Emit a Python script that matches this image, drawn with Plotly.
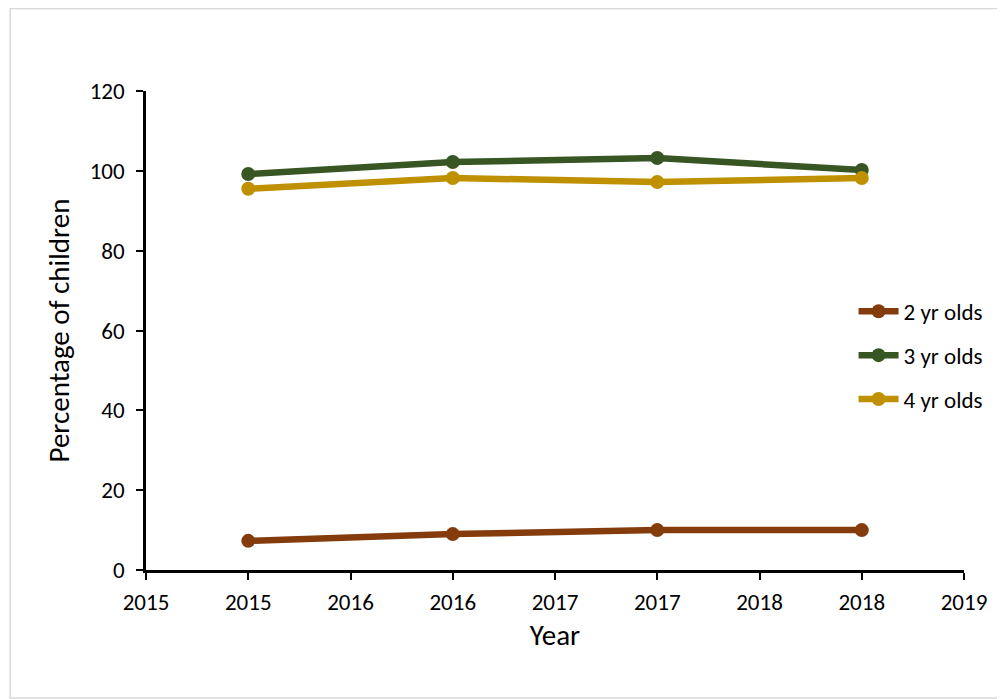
import plotly.graph_objects as go

years = [2015, 2016, 2017, 2018]
two_yr = [7.3, 9.0, 10.0, 10.0]
three_yr = [99.2, 102.2, 103.2, 100.2]
four_yr = [95.5, 98.2, 97.2, 98.2]
series_names = ["2 yr olds", "3 yr olds", "4 yr olds"]
colors = ["#843C0C", "#375623", "#BF9000"]
x_tickvals = [2014.5, 2015, 2015.5, 2016, 2016.5, 2017, 2017.5, 2018, 2018.5]
x_ticktext = ["2015", "2015", "2016", "2016", "2017", "2017", "2018", "2018", "2019"]
y_tickvals = [0, 20, 40, 60, 80, 100, 120]

FONT = "Carlito, Lato, Open Sans, Liberation Sans, sans-serif"

fig = go.Figure()
for i, (name, vals) in enumerate(zip(series_names, [two_yr, three_yr, four_yr])):
    fig.add_trace(go.Scatter(
        x=years, y=vals, name=name, mode="lines+markers",
        line=dict(color=colors[i], width=6.5),
        marker=dict(color=colors[i], size=14),
        legendgroup=name,
    ))

fig.update_layout(
    width=1005, height=699,
    margin=dict(l=138, r=49, t=83, b=137),
    paper_bgcolor="white", plot_bgcolor="white",
    font=dict(family=FONT, size=23, color="black"),
    showlegend=True,
    legend=dict(x=0.865, y=0.585, xanchor="left", yanchor="top",
                bgcolor="rgba(0,0,0,0)", font=dict(size=23, family=FONT),
                traceorder="grouped", tracegroupgap=11, itemwidth=40),
    xaxis=dict(range=[2014.5, 2018.5], tickvals=x_tickvals, ticktext=x_ticktext,
               showgrid=False, zeroline=False, showline=True, linecolor="black",
               linewidth=2.5, ticks="outside", ticklen=7, tickwidth=2, tickcolor="black",
               ticklabelstandoff=3,
               title=dict(text="Year", font=dict(size=29, family=FONT), standoff=10),
               tickfont=dict(size=23, family=FONT)),
    yaxis=dict(range=[0, 120], tickvals=y_tickvals, showgrid=False, zeroline=False,
               showline=True, linecolor="black", linewidth=2.5, ticks="outside",
               ticklen=7, tickwidth=2, tickcolor="black", ticklabelstandoff=7,
               title=dict(text="Percentage of children", font=dict(size=29, family=FONT), standoff=12),
               tickfont=dict(size=23, family=FONT)),
    shapes=[dict(type="rect", xref="paper", yref="paper",
                 x0=-0.166, x1=1.15, y0=-0.267, y1=1.172,
                 line=dict(color="#D9D9D9", width=1.5), fillcolor="rgba(0,0,0,0)", layer="below")],
)

fig.write_html("out.html")
